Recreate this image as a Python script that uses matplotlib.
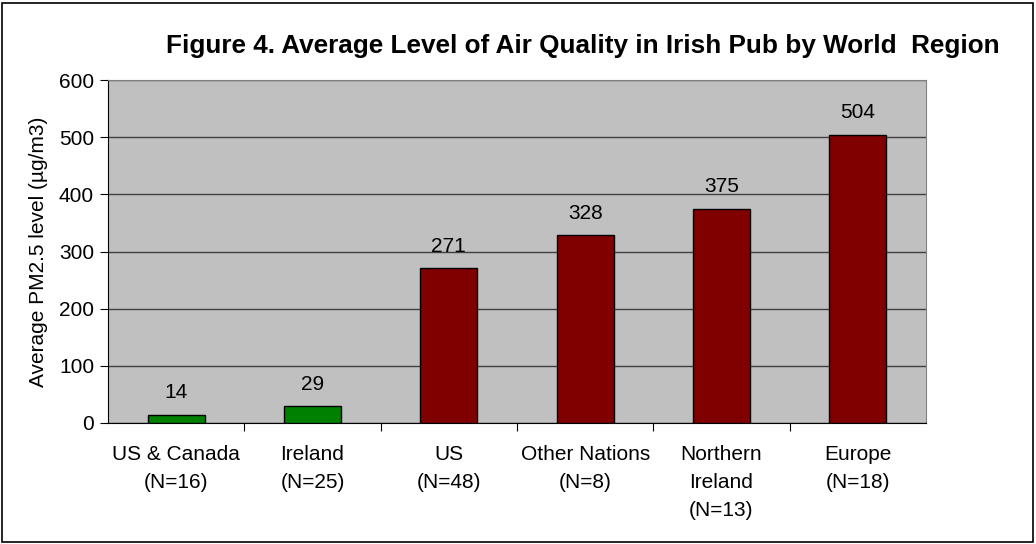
import matplotlib.pyplot as plt
from matplotlib.patches import Rectangle

plt.rcParams['font.family'] = ['Liberation Sans', 'DejaVu Sans']

regions = ["US & Canada\n(N=16)", "Ireland\n(N=25)", "US\n(N=48)",
           "Other Nations\n(N=8)", "Northern\nIreland\n(N=13)", "Europe\n(N=18)"]
pm25 = [14, 29, 271, 328, 375, 504]
colors = ["#008000", "#008000", "#800000", "#800000", "#800000", "#800000"]

fig = plt.figure(figsize=(10.36, 5.44), dpi=100)
ax = fig.add_axes([108 / 1036, 1 - 423 / 544, (926 - 108) / 1036, (423 - 80) / 544])

# outer frame of the chart
fig.patches.append(Rectangle((2 / 1036, 2 / 544), 1031 / 1036, 539 / 544,
                             transform=fig.transFigure, fill=False,
                             edgecolor="black", linewidth=1.2))

x = range(len(regions))
ax.bar(x, pm25, width=0.42, color=colors, edgecolor="black", linewidth=1, zorder=3)
for i, v in enumerate(pm25):
    ax.text(i, v + 22, str(v), ha="center", va="bottom", fontsize=15)

ax.set_facecolor("#C0C0C0")
ax.set_xlim(-0.5, len(regions) - 0.5)
ax.set_ylim(0, 600)
ax.set_yticks(range(0, 601, 100))
ax.yaxis.grid(True, color="#404040", linewidth=1, zorder=1)
ax.tick_params(axis="y", labelsize=15, length=6, direction="out", pad=4)

ax.set_xticks([i + 0.5 for i in range(len(regions) - 1)], minor=False)
ax.set_xticklabels([])
ax.set_xticks(list(x), minor=True)
ax.set_xticklabels(regions, minor=True, fontsize=15, linespacing=1.6)
ax.tick_params(axis="x", which="major", length=6, direction="out")
ax.tick_params(axis="x", which="minor", length=0, pad=16)

for s in ["top", "right"]:
    ax.spines[s].set_color("#808080")
ax.spines["left"].set_color("black")
ax.spines["bottom"].set_color("black")

ax.set_ylabel("Average PM2.5 level (µg/m3)", fontsize=15, labelpad=8)
fig.text(583 / 1036, 1 - 46 / 544,
         "Figure 4. Average Level of Air Quality in Irish Pub by World  Region",
         ha="center", va="center", fontsize=18.8, fontweight="bold")

fig.savefig("out.png", dpi=100)
